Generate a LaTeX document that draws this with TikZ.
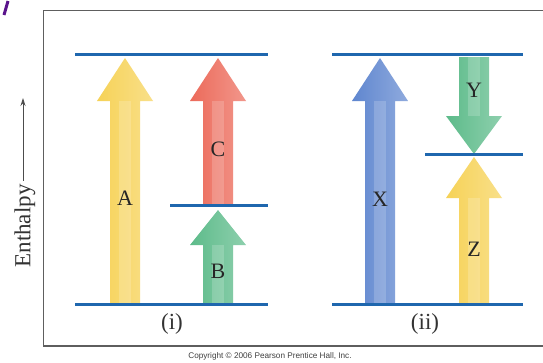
\documentclass[tikz,border=0pt]{standalone}
\usepackage{fontspec}
\setmainfont{Liberation Serif}
\usetikzlibrary{arrows.meta}
\newfontfamily\copyfont{Liberation Sans}
\definecolor{lvl}{HTML}{1F67AE}
\definecolor{cyel}{HTML}{F6D257}
\definecolor{cred}{HTML}{EC6A5A}
\definecolor{cgrn}{HTML}{5DBB8A}
\definecolor{cblu}{HTML}{5F86CF}
\definecolor{frm}{HTML}{5E5E5E}
\newcommand{\fatarrow}[5]{%
  \shade[left color=#5, middle color=#5!55!white, right color=#5!70!white]
    (#1-15,#2) -- (#1-15,#4) -- (#1-28,#4) -- (#1,#3) -- (#1+28,#4) -- (#1+15,#4) -- (#1+15,#2) -- cycle;
  \fill[white, opacity=0.18] (#1-6,#2) -- (#1-6,#4) -- (#1+6,#4) -- (#1+6,#2) -- cycle;
}
\tikzset{
  level/.style={draw=lvl, line width=3pt},
  lab/.style={font=\fontsize{22}{22}\selectfont, text=black!85},
  captxt/.style={font=\fontsize{23}{23}\selectfont, text=black!80},
}
\begin{document}
\begin{tikzpicture}[x=1pt,y=-1pt]
\useasboundingbox (0,0) rectangle (543,362);
\fill[white] (0,0) rectangle (543,362);
% stray purple mark
\draw[draw={rgb,255:red,90;green,20;blue,140}, line width=3pt] (8,1) -- (4,15);
% frame
\draw[frm, line width=1.4pt] (43.5,10.5) rectangle (546,346);
% arrows
\fatarrow{125}{304}{58}{101}{cyel}
\fatarrow{218}{205}{58}{101}{cred}
\fatarrow{218}{304}{210}{245}{cgrn}
\fatarrow{380}{304}{58}{101}{cblu}
\fatarrow{474}{57}{154}{116}{cgrn}
\fatarrow{474}{304}{157}{198}{cyel}
% levels
\coordinate (i1) at (75,54);   \coordinate (i2) at (268,54);
\coordinate (m1) at (170,205); \coordinate (m2) at (268,205);
\coordinate (b1) at (75,304);  \coordinate (b2) at (268,304);
\coordinate (j1) at (332,54);  \coordinate (j2) at (523,54);
\coordinate (n1) at (425,154); \coordinate (n2) at (523,154);
\coordinate (c1) at (332,304); \coordinate (c2) at (523,304);
\draw[level] (i1) -- (i2);
\draw[level] (m1) -- (m2);
\draw[level] (b1) -- (b2);
\draw[level] (j1) -- (j2);
\draw[level] (n1) -- (n2);
\draw[level] (c1) -- (c2);
% labels
\node[lab] (A) at (125,198) {A};
\node[lab] (C) at (218,149) {C};
\node[lab] (B) at (218,271) {B};
\node[lab] (X) at (380,199) {X};
\node[lab] (Y) at (474,90) {Y};
\node[lab] (Z) at (474,249) {Z};
\node[captxt] (ci) at (172,324) {(i)};
\node[captxt] (cii) at (425,324) {(ii)};
% axis label
\node[captxt, rotate=90] (en) at (25,226) {Enthalpy};
\coordinate (ax) at (23,98);
\draw[black!70, line width=0.8pt, -{Stealth[length=8pt,width=5pt]}] ([xshift=-2pt]en.east) -- (ax);
% copyright
\node[font=\copyfont\fontsize{8.2}{8.2}\selectfont, text=black!75] (cr) at (270,356) {Copyright © 2006 Pearson Prentice Hall, Inc.};
\end{tikzpicture}
\end{document}
